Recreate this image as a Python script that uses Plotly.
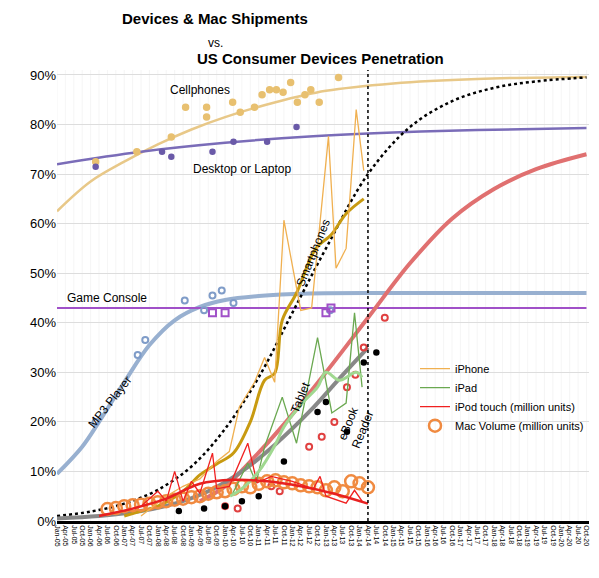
import plotly.graph_objects as go

months = ["Jan", "Apr", "Jul", "Oct"]
tick_labels = [f"{m}-{y:02d}" for y in range(5, 21) for m in months]
tick_pos = list(range(len(tick_labels)))

# fitted curves (quarter index, %)
cell_q = [0, 4, 8, 12, 16, 20, 26, 32, 40, 50, 63]
cell_v = [62.5, 68.5, 72.5, 76, 79, 81.5, 84.5, 86.8, 88.3, 89.2, 89.6]
desk_q = [0, 10, 20, 30, 40, 50, 63]
desk_v = [72, 74.5, 76.3, 77.6, 78.4, 78.9, 79.3]
mp3_q = [0, 3, 5, 8, 11, 14, 17, 20, 24, 30, 40, 63]
mp3_v = [9.5, 15, 20, 28, 35.5, 40.5, 43.2, 44.6, 45.4, 45.9, 46, 46]
dot_q = [0, 4, 8, 12, 16, 20, 24, 28, 32, 37, 42, 47, 52, 57, 63]
dot_v = [1, 1.9, 3.5, 6.3, 11, 18.6, 29, 42, 55, 70, 79.5, 84.7, 87.4, 88.7, 89.5]
tabp_q = [17, 20, 23, 27, 32, 37, 42, 47, 52, 57, 63]
tabp_v = [4, 7, 12, 19.5, 30, 41, 52, 61, 67, 71, 74]
ebook_q = [0, 5, 10, 14, 18, 22, 26, 30, 34, 37]
ebook_v = [0.5, 1, 2, 3.5, 6, 10, 15.5, 22, 29.5, 35]
smart_q = [8, 10, 12, 15, 17, 19, 21, 23, 24.7, 25.9, 26.8, 28.5, 30.8, 32.6, 34.4, 36.5]
smart_v = [1, 2, 3, 6, 9.3, 11.5, 13.7, 20, 28.4, 29.8, 40.5, 46, 55, 57.7, 62, 65]
green_s_q = [20.6, 22, 24, 26, 27, 29.2, 31, 32, 33.6, 35.6, 36.3]
green_s_v = [5, 6.5, 10, 15.5, 19, 23.8, 27, 30, 28.4, 30, 29]
ipod_s_q = [5, 9, 13, 17, 21, 25, 29, 33, 37]
ipod_s_v = [1, 2.5, 4.5, 7.5, 8.3, 8, 7, 5.5, 3.5]
console_v = 43

# survey points
cell_pts_q = [4.6, 9.5, 13.6, 15.3, 17.8, 17.8, 20.9, 21.8, 23.5, 24.4, 25.3, 26.1, 26.9, 27.8, 28.6, 29.5, 31.2, 30.2, 33.5]
cell_pts_v = [72.5, 74.5, 77.5, 83.5, 83.5, 81.5, 84.5, 82.5, 83.5, 86, 87, 87, 86.5, 88.5, 84.5, 86, 84.5, 87, 89.5]
desk_pts_q = [4.6, 12.5, 13.6, 18.5, 21, 25, 28.5]
desk_pts_v = [71.5, 74.5, 73.5, 74.5, 76.5, 76.5, 79.5]
mp3_pts_q = [4.6, 9.6, 10.5, 15.2, 18.5, 19.6, 17.5, 21, 32.5]
mp3_pts_v = [20, 33.5, 36.5, 44.5, 45.5, 46.5, 42.5, 44, 42.5]
console_pts_q = [18.5, 20, 32, 32.6]
console_pts_v = [42, 42, 42, 43]
tab_pts_q = [20, 21.5, 25.5, 26.5, 30, 31.5, 33, 34.5, 35.5, 36.5, 39]
tab_pts_v = [3, 2.5, 7, 6, 15, 17, 20, 27, 29.5, 35, 41]
eb_pts_q = [14.5, 17.5, 20, 22, 24, 27, 31, 32, 34.5, 36.5, 38]
eb_pts_v = [2, 2.5, 3, 4, 5, 12, 22, 24, 18, 32, 34]

# quarterly unit series
iphone_q = [10, 13, 15, 17, 19, 20.5, 21.7, 23.5, 24.7, 25.9, 27, 29, 30.3, 31.8, 32.3, 33.2, 34.4, 35, 35.6, 36.5]
iphone_v = [1, 5, 7, 8.5, 12, 14, 23, 28, 33, 28, 60.7, 42.5, 43, 68.7, 77.6, 51, 55, 68.7, 83, 70.7]
ipad_q = [20.8, 22.7, 23.7, 24.7, 26.8, 28.5, 31, 32.7, 34.4, 35.4, 36.3]
ipad_v = [5.2, 11.7, 7.7, 15, 25, 15.7, 37, 21.8, 23.8, 42, 27]
ipod_q = [8, 10, 12, 13, 14, 15, 16, 17, 18.5, 19, 20.5, 22.7, 23.8, 25.5, 28, 30.5, 31.3, 32, 34.4, 35.4, 36.3]
ipod_v = [2, 3, 6, 4, 10, 4, 8, 5.6, 13.7, 6.5, 7, 15.7, 7.7, 9, 8, 6.5, 9, 5, 3.6, 6.2, 4]
mac_q = list(range(6, 38))
mac_v = [2.4, 2.6, 3, 3.2, 3.3, 3.5, 3.8, 4, 4.3, 4.5, 4.8, 5, 5.5, 5.8, 6, 6.5, 7, 6.8, 7.5, 8, 8.2, 7.8, 7.6, 7.2, 7, 6.8, 6.2, 6.8, 6, 8, 7.6, 6.8]

fig = go.Figure()
def curve(x, y, color, width, dash=None):
    fig.add_trace(go.Scatter(x=x, y=y, mode="lines", line=dict(color=color, width=width, shape="spline", dash=dash),
                             showlegend=False, hoverinfo="skip"))
def pts(x, y, color, symbol="circle-open", size=5, w=1.5):
    fig.add_trace(go.Scatter(x=x, y=y, mode="markers", showlegend=False,
                             marker=dict(symbol=symbol, size=size, color=color, line=dict(width=w, color=color))))

curve(cell_q, cell_v, "#e8c888", 2.5)
curve(desk_q, desk_v, "#7a6cb8", 2.5)
curve(mp3_q, mp3_v, "#98b0d0", 4)
fig.add_trace(go.Scatter(x=[0, 63], y=[console_v, console_v], mode="lines", line=dict(color="#a050c8", width=2), showlegend=False))
curve(dot_q, dot_v, "black", 2.5, dash="dot")
curve(tabp_q, tabp_v, "#e07070", 4)
curve(ebook_q, ebook_v, "#888888", 4)
pts(cell_pts_q, cell_pts_v, "#e8c070", "circle", 6)
pts(desk_pts_q, desk_pts_v, "#6a5aa8", "circle", 5)
pts(mp3_pts_q, mp3_pts_v, "#7f9cc8", "circle-open", 6, 2)
pts(console_pts_q, console_pts_v, "#a050c8", "square-open", 7, 2)
pts(tab_pts_q, tab_pts_v, "#e04040", "circle-open", 6, 2)
pts(eb_pts_q, eb_pts_v, "black", "circle", 5)
curve(smart_q, smart_v, "#c89a10", 3)
fig.add_trace(go.Scatter(x=mac_q, y=mac_v, mode="markers", name="Mac Volume (million units)", legendrank=4,
                         marker=dict(symbol="circle-open", size=12, color="#f08a40", line=dict(width=2.5, color="#f08a40"))))
fig.add_trace(go.Scatter(x=iphone_q, y=iphone_v, mode="lines", name="iPhone", legendrank=1, line=dict(color="#f0b050", width=1.3)))
fig.add_trace(go.Scatter(x=ipad_q, y=ipad_v, mode="lines", name="iPad", legendrank=2, line=dict(color="#6aa850", width=1.3)))
fig.add_trace(go.Scatter(x=ipod_q, y=ipod_v, mode="lines", name="iPod touch (million units)", legendrank=3, line=dict(color="#f02020", width=1.3)))
curve(green_s_q, green_s_v, "#a0d890", 3)
curve(ipod_s_q, ipod_s_v, "#e82020", 2.5)

fig.add_shape(type="line", x0=37, x1=37, y0=0, y1=91, line=dict(color="black", width=1.5, dash="dot"))
for v in tick_pos:
    fig.add_shape(type="line", x0=v, x1=v, y0=0, y1=91, line=dict(color="#eeeeee", width=0.6), layer="below")

# page offset (browser body margin) compensation
OFF = 8
W, H = 599 - OFF, 578 - OFF
L, R, T, B = 57 - OFF, 10, 70 - OFF, 57

for px, py, t, s in [(215, 18, "<b>Devices & Mac Shipments</b>", 15), (215, 43, "vs.", 12),
                     (320, 59, "<b>US Consumer Devices Penetration</b>", 15)]:
    fig.add_annotation(x=(px - OFF - L) / (W - L - R), y=(H - B - (py - OFF)) / (H - T - B),
                       xref="paper", yref="paper", xanchor="center", yanchor="middle",
                       text=t, showarrow=False, font=dict(size=s, color="black"))
labels = [
    (17, 87, "Cellphones", 0), (22, 71, "Desktop or Laptop", 0), (30.5, 54, "Smartphones", -68),
    (6, 45, "Game Console", 0), (6.3, 24, "MP3 Player", -52), (29, 25, "Tablet", -68), (35.5, 19, "eBook<br>Reader", -68),
]
for x, y, t, ang in labels:
    fig.add_annotation(x=x, y=y, text=t, textangle=ang, showarrow=False, font=dict(size=12, color="black"))

fig.update_layout(
    width=W, height=H, margin=dict(l=L, r=R, t=T, b=B, autoexpand=False),
    plot_bgcolor="white", paper_bgcolor="white",
    font=dict(family="Liberation Sans, Arial", color="black"),
    xaxis=dict(range=[0, 63.3], tickvals=tick_pos, ticktext=tick_labels, tickangle=90, tickfont=dict(size=7),
               showgrid=False, showline=True, linecolor="black", linewidth=2.5, zeroline=False, automargin=False),
    yaxis=dict(range=[0, 91], tickvals=list(range(0, 91, 10)), ticktext=[f"{v}%" for v in range(0, 91, 10)],
               tickfont=dict(size=13), gridcolor="#dddddd", zeroline=False, ticks="", automargin=False),
    legend=dict(x=1.0, y=0.37, xanchor="right", yanchor="top", font=dict(size=11), bgcolor="rgba(0,0,0,0)",
                itemwidth=30, tracegroupgap=0),
)
fig.write_html("out.html")
